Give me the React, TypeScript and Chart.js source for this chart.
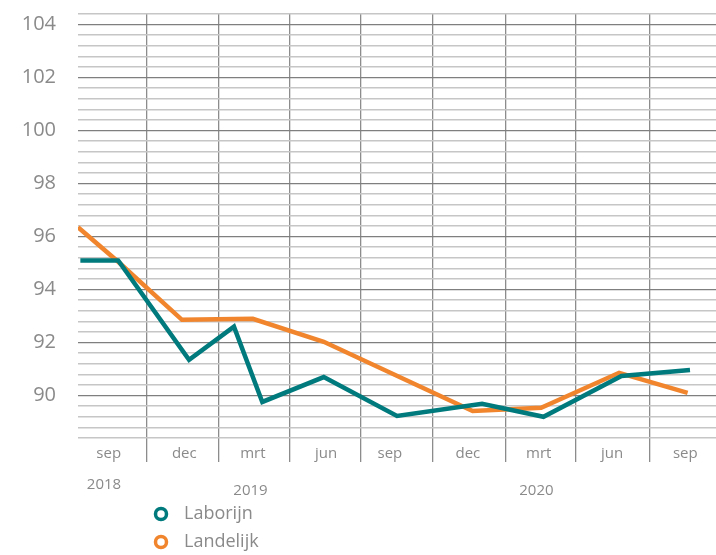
import React, { useEffect, useRef } from "react";
import { Chart, registerables } from "chart.js";

Chart.register(...registerables);

// x values are months counted from sep 2018 (= 0)
const monthLabels = ["sep", "dec", "mrt", "jun", "sep", "dec", "mrt", "jun", "sep"];
const monthLabelPositions = [-0.2, 3, 5.9, 9, 11.7, 15, 18, 21.1, 24.2];
const yearLabels = ["2018", "2019", "2020"];
const yearLabelPositions = [-0.4, 5.8, 17.9];
const quarterBoundaries = [1.4, 4.45, 7.45, 10.45, 13.5, 16.6, 19.55, 22.7];

const laborijnX = [-1.4, 0.2, 3.2, 5.1, 6.3, 8.9, 12.0, 15.6, 18.2, 21.5, 24.4];
const laborijnY = [95.1, 95.1, 91.35, 92.6, 89.76, 90.7, 89.23, 89.69, 89.2, 90.74, 90.97];
const landelijkX = [-1.5, 0.2, 2.9, 5.9, 8.9, 15.2, 18.1, 21.4, 24.3];
const landelijkY = [96.35, 95.05, 92.86, 92.9, 92.03, 89.42, 89.54, 90.86, 90.1];

const seriesNames = ["Laborijn", "Landelijk"];
const seriesColors = ["#007a7c", "#f0852d"];

const yMin = 88.4;
const yMax = 104.4;
const yStep = 0.4;

const TEXT = "#8a8a8a";
const FONT = "'Open Sans', 'Noto Sans', sans-serif";

const labelsPlugin = {
  id: "labelsPlugin",
  afterDraw(chart: any) {
    const ctx = chart.ctx;
    const xs = chart.scales.x;
    ctx.save();
    ctx.fillStyle = TEXT;
    ctx.textAlign = "center";
    ctx.textBaseline = "middle";
    ctx.font = `15px ${FONT}`;
    monthLabels.forEach((l, i) => {
      ctx.fillText(l, xs.getPixelForValue(monthLabelPositions[i]), 454);
    });
    yearLabels.forEach((l, i) => {
      ctx.fillText(l, xs.getPixelForValue(yearLabelPositions[i]), i === 0 ? 485 : 491);
    });
    // legend
    ctx.font = `18px ${FONT}`;
    ctx.textAlign = "left";
    chart.data.datasets.forEach((ds: any, i: number) => {
      const cy = 514 + i * 28;
      ctx.beginPath();
      ctx.arc(161, cy, 5.5, 0, Math.PI * 2);
      ctx.lineWidth = 3.5;
      ctx.strokeStyle = ds.borderColor;
      ctx.stroke();
      ctx.fillStyle = TEXT;
      ctx.fillText(ds.label, 184, cy);
    });
    ctx.restore();
  },
};

export default function App() {
  const ref = useRef<HTMLCanvasElement | null>(null);

  useEffect(() => {
    if (!ref.current) return;
    const yTicks: number[] = [];
    const n = Math.round((yMax - yMin) / yStep);
    for (let i = 0; i <= n; i++) yTicks.push(Math.round((yMin + i * yStep) * 10) / 10);
    const isMajor = (v: number) => Number.isInteger(v) && v % 2 === 0;

    const chart = new Chart(ref.current, {
      type: "line",
      data: {
        datasets: [
          {
            label: seriesNames[0],
            data: laborijnX.map((x, i) => ({ x, y: laborijnY[i] })),
            borderColor: seriesColors[0],
            backgroundColor: seriesColors[0],
            borderWidth: 4.5,
            pointRadius: 0,
            tension: 0,
          },
          {
            label: seriesNames[1],
            data: landelijkX.map((x, i) => ({ x, y: landelijkY[i] })),
            borderColor: seriesColors[1],
            backgroundColor: seriesColors[1],
            borderWidth: 4.5,
            pointRadius: 0,
            tension: 0,
          },
        ],
      },
      options: {
        animation: false,
        responsive: false,
        devicePixelRatio: 1,
        layout: { padding: { top: 14, bottom: 93, left: 0, right: 0 } },
        plugins: { legend: { display: false }, tooltip: { enabled: false } },
        scales: {
          x: {
            type: "linear",
            min: -1.5,
            max: 25.5,
            afterBuildTicks: (axis: any) => {
              axis.ticks = quarterBoundaries.map((v) => ({ value: v }));
            },
            afterFit: (axis: any) => {
              axis.paddingLeft = 0;
              axis.paddingRight = 0;
            },
            ticks: { display: false },
            grid: { color: "#8c8c8c", lineWidth: 1.3, tickLength: 24, drawTicks: true },
            border: { display: false },
          },
          y: {
            type: "linear",
            min: yMin,
            max: yMax,
            afterBuildTicks: (axis: any) => {
              axis.ticks = yTicks.map((v) => ({ value: v }));
            },
            afterFit: (axis: any) => {
              axis.width = 78;
              axis.paddingTop = 0;
              axis.paddingBottom = 0;
            },
            ticks: {
              autoSkip: false,
              padding: 22,
              color: TEXT,
              font: { family: FONT, size: 20 },
              callback: (v: any) => (isMajor(Number(v)) ? String(v) : ""),
            },
            grid: {
              drawTicks: false,
              color: (c: any) => (isMajor(c.tick?.value) ? "#7f7f7f" : "#c6c6c6"),
              lineWidth: (c: any) => (isMajor(c.tick?.value) ? 1.3 : 1.6),
            },
            border: { display: false },
          },
        },
      },
      plugins: [labelsPlugin],
    } as any);
    return () => chart.destroy();
  }, []);

  return (
    <div style={{ position: "absolute", left: 0, top: 0, width: 716, height: 555, background: "#fff" }}>
      <canvas ref={ref} width={716} height={555} style={{ width: 716, height: 555, display: "block" }} />
    </div>
  );
}
